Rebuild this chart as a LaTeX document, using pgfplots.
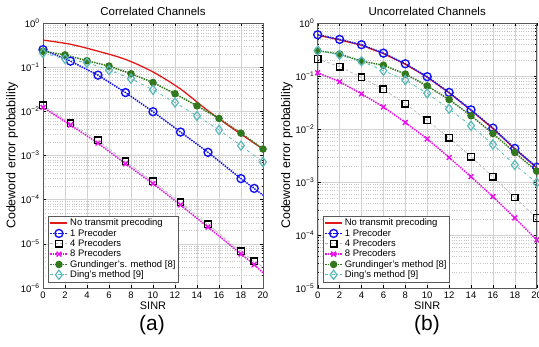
\documentclass[border=0pt]{standalone}
\usepackage{fontspec}
\setmainfont{Liberation Sans}
\usepackage{pgfplots}
\pgfplotsset{compat=1.18}
\definecolor{mred}{RGB}{225,25,25}
\definecolor{mblue}{RGB}{20,20,240}
\definecolor{mmag}{RGB}{230,20,230}
\definecolor{mgreen}{RGB}{50,120,30}
\definecolor{mcyan}{RGB}{90,185,185}
\pgfplotsset{
  sred/.style={mred, solid, line width=1.3pt, no markers},
  sblue/.style={mblue, densely dotted, line width=1.5pt, mark=o, mark size=4pt, mark options={solid, line width=1.4pt}},
  sblack/.style={gray!55, densely dashed, line width=0.7pt, mark=square, mark size=3.3pt, mark options={solid, black, line width=1.4pt}},
  smag/.style={mmag, densely dotted, line width=1.5pt, mark=x, mark size=3.4pt, mark options={solid, line width=1.5pt}},
  sgreen/.style={mgreen, densely dotted, line width=1.5pt, mark=*, mark size=3pt, mark options={solid}},
  scyan/.style={mcyan, dash dot, line width=0.8pt, mark=diamond, mark size=4.6pt, mark options={solid, line width=1.2pt}},
}
\begin{document}
\begin{tikzpicture}
\useasboundingbox (0,0) rectangle (539bp,347bp);
% ---------------- (a) ----------------
\begin{axis}[
  scale only axis, anchor=south west, height=265bp,
  at={(43bp,59bp)}, width=220bp,
  ymode=log,
  xmin=0, xmax=20, xtick={0,2,...,20},
  ymin=1e-6, ymax=1,
  ytick={1e-6,1e-5,1e-4,1e-3,1e-2,1e-1,1},
  yticklabels={10\textsuperscript{−6},10\textsuperscript{−5},10\textsuperscript{−4},10\textsuperscript{−3},10\textsuperscript{−2},10\textsuperscript{−1},10\textsuperscript{0}},
  xticklabels={0,2,4,6,8,10,12,14,16,18,20},
  tick align=inside,
  tick style={black, line width=0.4pt},
  major tick length=3pt, minor tick length=1.5pt,
  xmajorgrids=true, ymajorgrids=true, yminorgrids=true,
  major grid style={gray!35, line width=0.4pt},
  minor grid style={gray!45, dotted, line width=0.4pt},
  axis line style={gray!70!black, line width=0.5pt},
  ticklabel style={font=\fontsize{9.5}{10}\selectfont},
  label style={font=\fontsize{11}{12}\selectfont},
  title style={font=\fontsize{11.5}{13}\selectfont, yshift=-2pt},
  xlabel={SINR}, xlabel style={yshift=3pt},
  ylabel={Codeword error probability}, ylabel style={yshift=-4pt, font=\fontsize{12.5}{13}\selectfont},
  legend cell align=left,
  legend style={font=\fontsize{9.5}{10}\selectfont, inner sep=1pt, row sep=-2pt,
    draw=gray!70!black, at={(0.025,0.022)}, anchor=south west},
  title={Correlated Channels},
]
\addplot[sred, smooth] coordinates {(0,0.41)(2.5,0.33)(5,0.23)(7.5,0.15)(10,0.078)(12.5,0.032)(15,0.0103)(17.5,0.0037)(20,0.0014)};
\addlegendentry{No transmit precoding}
\addplot[sblue, mark indices={1,2,3,4,5,6,7,8,9}, legend image post style={mark indices={2}}] coordinates {(0,0.25)(2.5,0.137)(5,0.066)(7.5,0.0266)(10,0.0098)(12.5,0.0034)(15,0.00118)(18,3.0e-4)(19.2,1.8e-4)(20,1.26e-4)};
\addlegendentry{1 Precoder}
\addplot[sblack, mark indices={1,2,3,4,5,6,7,8,9}, legend image post style={mark indices={2}}] coordinates {(0,0.0138)(2.5,0.0054)(5,0.0022)(7.5,7.4e-4)(10,2.6e-4)(12.5,8.7e-5)(15,2.75e-5)(18,6.8e-6)(19.2,4e-6)(20,3e-6)};
\addlegendentry{4 Precoders}
\addplot[smag, mark indices={1,2,3,4,5,6,7,8,9}, legend image post style={mark indices={2}}] coordinates {(0,0.0123)(2.5,0.0049)(5,0.0019)(7.5,6.5e-4)(10,2.3e-4)(12.5,7.6e-5)(15,2.4e-5)(18,5.9e-6)(19.2,3.4e-6)(20,2.2e-6)};
\addlegendentry{8 Precoders}
\addplot[sgreen] coordinates {(0,0.23)(2,0.19)(4,0.14)(6,0.106)(8,0.071)(10,0.045)(12,0.025)(14,0.0133)(16,0.0069)(18,0.0032)(20,0.0014)};
\addlegendentry{Grundinger's. method [8]}
\addplot[scyan] coordinates {(0,0.21)(2,0.155)(4,0.126)(6,0.086)(8,0.055)(10,0.0306)(12,0.0158)(14,0.0079)(16,0.0038)(18,0.00167)(20,7.1e-4)};
\addlegendentry{Ding's method [9]}
\end{axis}
% ---------------- (b) ----------------
\begin{axis}[
  scale only axis, anchor=south west, height=265bp,
  at={(317.7bp,59bp)}, width=219bp,
  ymode=log,
  xmin=0, xmax=20, xtick={0,2,...,20},
  ymin=1e-5, ymax=1,
  ytick={1e-5,1e-4,1e-3,1e-2,1e-1,1},
  yticklabels={10\textsuperscript{−5},10\textsuperscript{−4},10\textsuperscript{−3},10\textsuperscript{−2},10\textsuperscript{−1},10\textsuperscript{0}},
  xticklabels={0,2,4,6,8,10,12,14,16,18,20},
  tick align=inside,
  tick style={black, line width=0.4pt},
  major tick length=3pt, minor tick length=1.5pt,
  xmajorgrids=true, ymajorgrids=true, yminorgrids=true,
  major grid style={gray!35, line width=0.4pt},
  minor grid style={gray!45, dotted, line width=0.4pt},
  axis line style={gray!70!black, line width=0.5pt},
  ticklabel style={font=\fontsize{9.5}{10}\selectfont},
  label style={font=\fontsize{11}{12}\selectfont},
  title style={font=\fontsize{11.5}{13}\selectfont, yshift=-2pt},
  xlabel={SINR}, xlabel style={yshift=3pt},
  ylabel={Codeword error probability}, ylabel style={yshift=-4pt, font=\fontsize{12.5}{13}\selectfont},
  legend cell align=left,
  legend style={font=\fontsize{9.5}{10}\selectfont, inner sep=1pt, row sep=-2pt,
    draw=gray!70!black, at={(0.025,0.022)}, anchor=south west},
  title={Uncorrelated Channels},
]
\addplot[sred] coordinates {(0,0.59)(2,0.48)(4,0.38)(6,0.265)(8,0.167)(10,0.095)(12,0.048)(14,0.0225)(16,0.0102)(18,0.0042)(20,0.00185)};
\addlegendentry{No transmit precoding}
\addplot[sblue] coordinates {(0,0.60)(2,0.49)(4,0.39)(6,0.27)(8,0.17)(10,0.097)(12,0.049)(14,0.023)(16,0.0104)(18,0.0043)(20,0.0019)};
\addlegendentry{1 Precoder}
\addplot[sblack] coordinates {(0,0.21)(2,0.15)(4,0.094)(6,0.056)(8,0.030)(10,0.0145)(12,0.0068)(14,0.003)(16,0.00125)(18,5.1e-4)(20,2.1e-4)};
\addlegendentry{4 Precoders}
\addplot[smag] coordinates {(0,0.115)(2,0.078)(4,0.046)(6,0.026)(8,0.0133)(10,0.0065)(12,0.0029)(14,0.00126)(16,5.3e-4)(18,2.1e-4)(20,8.1e-5)};
\addlegendentry{8 Precoders}
\addplot[sgreen] coordinates {(0,0.30)(2,0.26)(4,0.19)(6,0.16)(8,0.109)(10,0.065)(12,0.036)(14,0.0178)(16,0.0082)(18,0.0036)(20,0.0016)};
\addlegendentry{Grundinger's method [8]}
\addplot[scyan] coordinates {(0,0.30)(2,0.25)(4,0.19)(6,0.126)(8,0.084)(10,0.047)(12,0.024)(14,0.0115)(16,0.0051)(18,0.0021)(20,9.7e-4)};
\addlegendentry{Ding's method [9]}
\end{axis}
\node[font=\fontsize{21}{22}\selectfont] at (152bp,22bp) {(a)};
\node[font=\fontsize{21}{22}\selectfont] at (427bp,22bp) {(b)};
\end{tikzpicture}
\end{document}
